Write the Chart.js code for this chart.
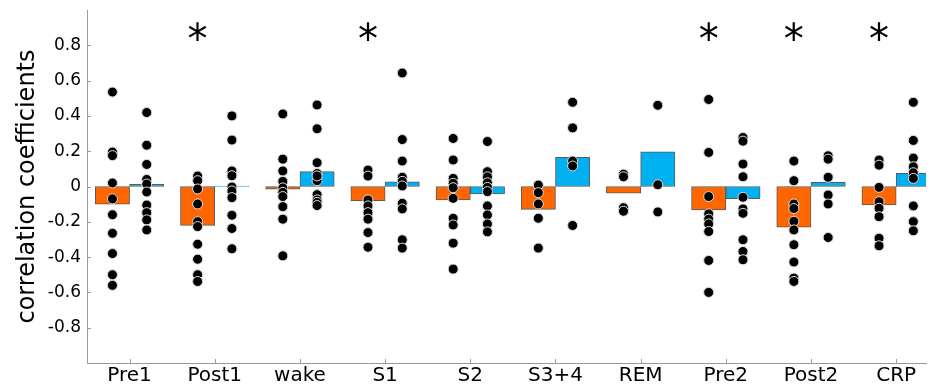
<!DOCTYPE html>
<html>
<head>
<meta charset="utf-8">
<script src="https://cdn.jsdelivr.net/npm/chart.js@4/dist/chart.umd.min.js"></script>
<style>
  html, body { margin: 0; padding: 0; background: #fff; overflow: hidden; }
  #wrap { width: 932px; height: 385px; }
</style>
</head>
<body>
<div id="wrap"><canvas id="c" width="932" height="385"></canvas></div>
<script>
// ---- data ----
const categories = ['Pre1', 'Post1', 'wake', 'S1', 'S2', 'S3+4', 'REM', 'Pre2', 'Post2', 'CRP'];
const orangeMeans = [-0.10, -0.22, -0.015, -0.08, -0.076, -0.13, -0.038, -0.133, -0.231, -0.105];
const blueMeans   = [0.012, 0.002, 0.084, 0.027, -0.042, 0.165, 0.197, -0.069, 0.024, 0.074];
const orangeDots = [
  [0.535, 0.195, 0.175, 0.02, -0.07, -0.16, -0.265, -0.38, -0.5, -0.56],
  [0.059, 0.033, -0.014, -0.099, -0.199, -0.227, -0.327, -0.412, -0.5, -0.538],
  [0.411, 0.155, 0.088, 0.029, -0.008, -0.033, -0.057, -0.114, -0.185, -0.393],
  [0.093, 0.059, -0.076, -0.11, -0.148, -0.185, -0.261, -0.344],
  [0.272, 0.15, 0.046, 0.018, -0.007, -0.067, -0.18, -0.218, -0.321, -0.468],
  [0.008, -0.035, -0.099, -0.18, -0.349],
  [0.07, 0.055, -0.12, -0.14],
  [0.493, 0.193, -0.057, -0.155, -0.185, -0.212, -0.255, -0.419, -0.6],
  [0.144, 0.033, -0.099, -0.125, -0.197, -0.246, -0.33, -0.428, -0.519, -0.538],
  [0.15, 0.121, -0.005, -0.086, -0.123, -0.171, -0.293, -0.336]
];
const blueDots = [
  [0.419, 0.234, 0.125, 0.04, 0.014, -0.031, -0.105, -0.148, -0.189, -0.246],
  [0.4, 0.263, 0.088, 0.061, -0.003, -0.025, -0.063, -0.163, -0.238, -0.353],
  [0.462, 0.327, 0.135, 0.074, 0.033, 0.06, -0.046, -0.076, -0.09, -0.108],
  [0.643, 0.266, 0.144, 0.052, 0.029, 0.003, -0.095, -0.127, -0.302, -0.349],
  [0.255, 0.084, 0.055, 0.021, -0.005, -0.029, -0.11, -0.161, -0.212, -0.257],
  [0.477, 0.332, 0.144, 0.116, -0.221],
  [0.46, 0.01, -0.144],
  [0.278, 0.257, 0.127, 0.055, -0.061, -0.127, -0.152, -0.302, -0.368, -0.415],
  [0.174, 0.155, 0.052, -0.048, -0.099, -0.289],
  [0.477, 0.261, 0.161, 0.112, 0.078, 0.046, -0.11, -0.199, -0.251]
];
const significant = [false, true, false, true, false, false, false, true, true, true];
const yTicks = [-0.8, -0.6, -0.4, -0.2, 0, 0.2, 0.4, 0.6, 0.8];

// ---- styling / layout constants ----
const ORANGE = '#FF6600';
const BLUE = '#00B0F0';
const AXIS = '#9a9a9a';
const FONT = "'DejaVu Sans', 'Liberation Sans', sans-serif";
const PAIR_WIDTH = 0.805;           // orange+blue bar pair width, in category units
const HALF = PAIR_WIDTH / 4;        // bar-centre offset from category centre
const X_MIN = -0.5, X_MAX = 9.35;   // visible x range (reference crops the last bar)
const STAR_LEVEL = 0.755;           // baseline level of the significance asterisks

function dotsFor(arrs, shift) {
  const pts = [];
  arrs.forEach((vals, i) => vals.forEach(v => pts.push({ x: i + shift, y: v })));
  return pts;
}
function barsFor(vals, shift) {
  return vals.map((v, i) => ({ x: i + shift, y: v }));
}

const decorPlugin = {
  id: 'decor',
  afterDraw(chart) {
    const { ctx, chartArea, scales } = chart;
    const y = scales.y, x = scales.x;
    ctx.save();
    ctx.strokeStyle = AXIS;
    ctx.lineWidth = 1;
    ctx.beginPath();
    yTicks.forEach(t => {
      const py = Math.round(y.getPixelForValue(t)) + 0.5;
      ctx.moveTo(chartArea.left, py);
      ctx.lineTo(chartArea.left + 4, py);
    });
    categories.forEach((c, i) => {
      const px = Math.round(x.getPixelForValue(i)) + 0.5;
      ctx.moveTo(px, chartArea.bottom);
      ctx.lineTo(px, chartArea.bottom - 4);
    });
    ctx.stroke();
    ctx.fillStyle = '#000';
    ctx.font = '40px ' + FONT;
    ctx.textAlign = 'center';
    ctx.textBaseline = 'alphabetic';
    significant.forEach((s, i) => {
      if (!s) return;
      ctx.fillText('*', x.getPixelForValue(i - HALF), y.getPixelForValue(STAR_LEVEL));
    });
    ctx.restore();
  }
};

const dotStyle = {
  type: 'scatter', order: 0,
  pointRadius: 5, pointBackgroundColor: '#000',
  pointBorderColor: '#e0e0e0', pointBorderWidth: 1, pointHoverRadius: 5
};
const barStyle = {
  type: 'bar', order: 5, grouped: false,
  borderColor: '#5a5a5a', borderWidth: 1, borderSkipped: false,
  categoryPercentage: 1.0, barPercentage: 1.0
};

new Chart(document.getElementById('c'), {
  data: {
    datasets: [
      Object.assign({ data: barsFor(orangeMeans, -HALF), backgroundColor: ORANGE }, barStyle),
      Object.assign({ data: barsFor(blueMeans, HALF), backgroundColor: BLUE }, barStyle),
      Object.assign({ data: dotsFor(orangeDots, -HALF) }, dotStyle),
      Object.assign({ data: dotsFor(blueDots, HALF) }, dotStyle)
    ]
  },
  options: {
    responsive: false,
    animation: false,
    devicePixelRatio: 1,
    layout: { padding: { top: 10, right: 0, left: 0, bottom: 0 } },
    plugins: { legend: { display: false }, tooltip: { enabled: false } },
    scales: {
      x: {
        type: 'linear', min: X_MIN, max: X_MAX, offset: false,
        grid: { display: false, drawTicks: false },
        border: { display: true, color: AXIS, width: 1 },
        afterBuildTicks(s) { s.ticks = categories.map((c, i) => ({ value: i })); },
        ticks: {
          color: '#000', font: { family: FONT, size: 20 }, padding: 1,
          maxRotation: 0, autoSkip: false,
          callback(v) { return categories[Math.round(v)] ?? ''; }
        },
        afterFit(s) { s.height = 22; s.paddingLeft = 0; s.paddingRight = 0; }
      },
      y: {
        type: 'linear', min: -1, max: 1,
        grid: { display: false, drawTicks: false },
        border: { display: true, color: AXIS, width: 1 },
        afterBuildTicks(s) { s.ticks = yTicks.map(v => ({ value: v })); },
        ticks: {
          color: '#000', padding: 6,
          font: { family: FONT, size: 17 },
          callback(v) {
            const r = Math.round(v * 10) / 10;
            return r === 0 ? '0' : r.toFixed(1);
          }
        },
        title: {
          display: true, text: 'correlation coefficients', color: '#000',
          font: { family: FONT, size: 24 }, padding: { top: 13, bottom: 0 }
        },
        afterFit(s) { s.width = 87; s.paddingTop = 0; s.paddingBottom = 0; }
      }
    }
  },
  plugins: [decorPlugin]
});
</script>
</body>
</html>
